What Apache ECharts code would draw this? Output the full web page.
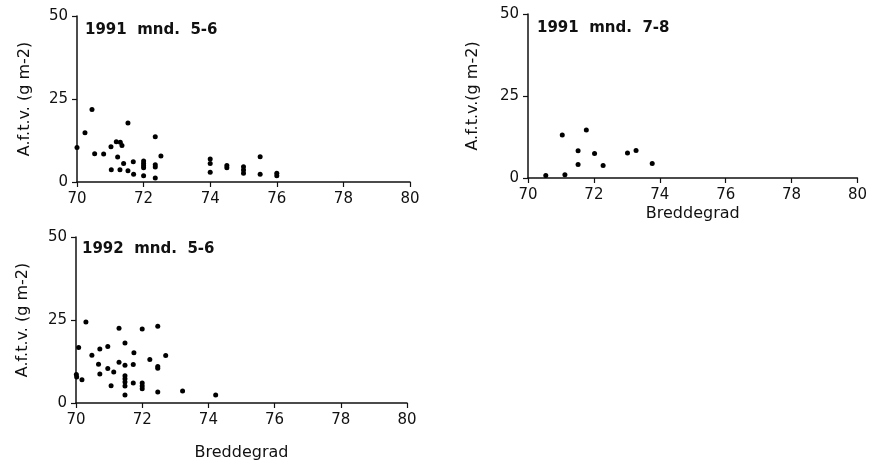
<!DOCTYPE html>
<html>
<head>
<meta charset="utf-8">
<script src="https://cdn.jsdelivr.net/npm/echarts@6/dist/echarts.min.js"></script>
<style>html,body{margin:0;padding:0;background:#fff}#c{width:870px;height:466px}</style>
</head>
<body>
<div id="c"></div>
<script>
// Panel titles and axis texts
const panelTitles = ['1991  mnd.  5-6', '1991  mnd.  7-8', '1992  mnd.  5-6'];
const yNames = ['A.f.t.v. (g m-2)', 'A.f.t.v.(g m-2)', 'A.f.t.v. (g m-2)'];
const xName = 'Breddegrad';
const xTicks = [70, 72, 74, 76, 78, 80];
const yTicks = [0, 25, 50];

// 1991 mnd. 5-6 : latitude, value
const lat1 = [70.0,70.24,70.45,70.53,70.8,71.02,71.03,71.18,71.3,71.35,71.22,71.29,71.4,71.53,71.53,71.69,71.7,72.0,72.0,72.0,72.0,72.0,72.35,72.35,72.35,72.35,72.52,74.0,74.0,74.0,74.5,74.5,75.0,75.0,75.0,75.5,75.5,76.0,76.0];
const val1 = [10.4,14.8,21.8,8.5,8.4,10.6,3.7,12.1,12.0,11.0,7.5,3.7,5.6,17.8,3.4,6.1,2.3,6.3,5.6,4.9,4.3,1.9,13.6,5.2,4.5,1.2,7.8,6.9,5.6,2.9,5.0,4.3,4.6,3.6,2.6,7.6,2.3,2.6,1.9];

// 1991 mnd. 7-8
const lat2 = [70.54,71.04,71.12,71.52,71.52,71.77,72.02,72.28,73.02,73.28,73.77];
const val2 = [0.8,13.1,1.0,8.3,4.1,14.6,7.5,3.8,7.6,8.4,4.4];

// 1992 mnd. 5-6
const lat3 = [70.01,70.02,70.08,70.18,70.3,70.48,70.68,70.72,70.72,70.96,70.96,71.06,71.14,71.3,71.3,71.48,71.48,71.48,71.48,71.48,71.48,71.48,71.73,71.75,71.73,72.0,72.0,72.0,72.0,72.23,72.47,72.47,72.47,72.47,72.71,73.22,74.22];
const val3 = [8.6,7.8,16.7,7.0,24.4,14.4,11.7,16.3,8.7,17.0,10.4,5.2,9.3,22.5,12.3,18.1,11.4,8.2,7.3,6.3,5.1,2.4,11.6,15.1,6.0,22.3,6.0,5.1,4.3,13.1,23.1,11.0,10.5,3.3,14.3,3.6,2.4];

const pts = (a, b) => a.map((v, i) => [v, b[i]]);
const black = '#111';
const FONT = 'DejaVu Sans';

const grids = [
  {left: 77, top: 16, width: 333, height: 166},
  {left: 528, top: 14, width: 330, height: 164},
  {left: 76, top: 237, width: 331, height: 166}
];
const xNameShow = [false, true, true];
const xNameGap = [28, 28, 42];
const yNameGap = [44, 47, 45];

function xAxis(i) {
  return {
    gridIndex: i, type: 'value', min: xTicks[0], max: xTicks[xTicks.length-1], interval: 2,
    name: xNameShow[i] ? xName : '', nameLocation: 'middle', nameGap: xNameGap[i],
    nameTextStyle: {fontFamily: FONT, fontSize: 16, color: black},
    axisLine: {show: true, onZero: false, lineStyle: {color: black, width: 1.5}},
    axisTick: {show: true, length: 5, inside: false, lineStyle: {color: black, width: 1.2}},
    axisLabel: {fontFamily: FONT, fontSize: 15, color: black, margin: 10},
    splitLine: {show: false}
  };
}
function yAxis(i) {
  return {
    gridIndex: i, type: 'value', min: yTicks[0], max: yTicks[yTicks.length-1], interval: 25,
    name: yNames[i], nameLocation: 'middle', nameGap: yNameGap[i], nameRotate: 90,
    nameTextStyle: {fontFamily: FONT, fontSize: 16, color: black},
    axisLine: {show: true, onZero: false, lineStyle: {color: black, width: 1.5}},
    axisTick: {show: true, length: 5, lineStyle: {color: black, width: 1.2}},
    axisLabel: {fontFamily: FONT, fontSize: 15, color: black, margin: 9},
    splitLine: {show: false}
  };
}
const titlePos = [{left: 85, top: 23}, {left: 537, top: 21}, {left: 82, top: 242}];

const option = {
  animation: false,
  backgroundColor: '#fff',
  title: panelTitles.map((t, i) => ({
    text: t, left: titlePos[i].left, top: titlePos[i].top, padding: 0,
    textStyle: {fontFamily: FONT, fontWeight: 'bold', fontSize: 15, color: black}
  })),
  grid: grids,
  xAxis: [0, 1, 2].map(xAxis),
  yAxis: [0, 1, 2].map(yAxis),
  series: [pts(lat1, val1), pts(lat2, val2), pts(lat3, val3)].map((d, i) => ({
    type: 'scatter', xAxisIndex: i, yAxisIndex: i, data: d,
    symbol: 'circle', symbolSize: 5, itemStyle: {color: '#000', opacity: 1}
  }))
};
echarts.init(document.getElementById('c')).setOption(option);
</script>
</body>
</html>
